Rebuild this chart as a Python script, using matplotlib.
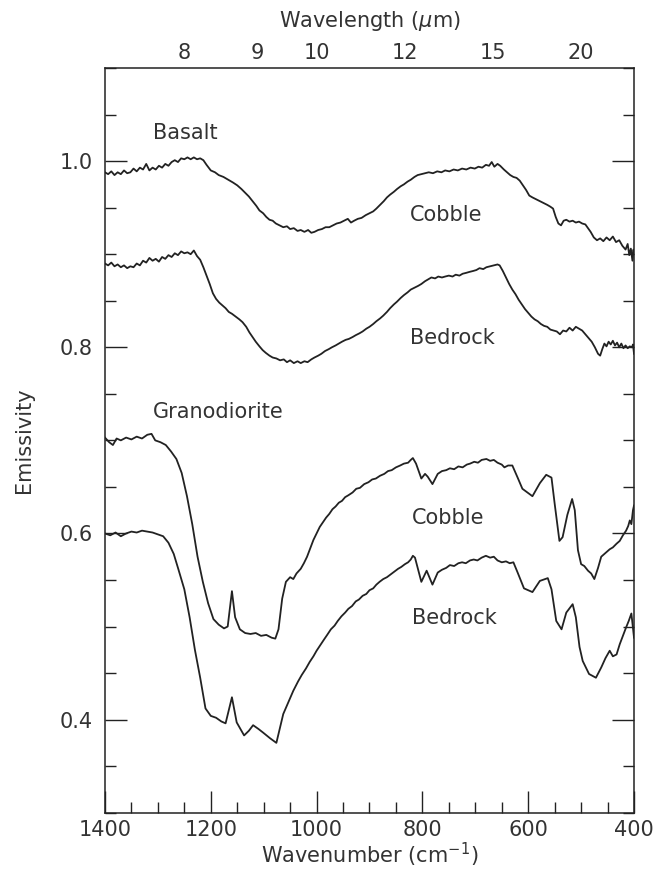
import numpy as np
import matplotlib
matplotlib.use("Agg")
import matplotlib.pyplot as plt
from matplotlib.ticker import MultipleLocator, FormatStrFormatter

# Emissivity spectra as (wavenumber cm^-1, emissivity) pairs
basalt_cobble = [
    (1400, .988), (1394, .986), (1388, .989), (1382, .985), (1376, .988), (1370, .986), (1364, .990),
    (1358, .987), (1352, .988), (1346, .992), (1340, .989), (1334, .993), (1328, .991), (1322, .997),
    (1316, .990), (1310, .993), (1304, .991), (1298, .995), (1292, .993), (1286, .997), (1280, .995),
    (1274, .999), (1268, 1.001), (1262, .999), (1256, 1.003), (1250, 1.002), (1244, 1.004),
    (1238, 1.002), (1232, 1.004), (1226, 1.002), (1220, 1.003), (1214, 1.001), (1208, .996),
    (1200, .990), (1192, .988), (1185, .985), (1176, .983), (1167, .980), (1158, .977), (1150, .974),
    (1142, .970), (1135, .966), (1128, .962), (1121, .957), (1114, .952), (1108, .947), (1101, .944),
    (1095, .940), (1089, .937), (1083, .936), (1077, .933), (1070, .931), (1063, .929), (1056, .930),
    (1050, .927), (1043, .928), (1036, .925), (1030, .926), (1023, .924), (1016, .926), (1010, .923),
    (1004, .924), (997, .926), (990, .927), (983, .929), (976, .929), (969, .931), (962, .933),
    (955, .934), (948, .936), (941, .938), (935, .934), (929, .936), (922, .938), (915, .939),
    (907, .942), (900, .944), (893, .946), (887, .949), (880, .953), (873, .957), (867, .961),
    (861, .964), (854, .967), (848, .970), (841, .973), (835, .975), (828, .978), (822, .980),
    (815, .983), (809, .985), (802, .986), (795, .987), (788, .988), (780, .987), (772, .989),
    (764, .988), (757, .990), (749, .989), (741, .991), (733, .990), (725, .992), (717, .991),
    (709, .993), (701, .992), (694, .994), (687, .993), (680, .996), (674, .995), (669, .999),
    (664, .994), (658, .997), (653, .995), (646, .991), (640, .988), (634, .985), (628, .983),
    (622, .982), (616, .979), (610, .974), (604, .969), (598, .963), (592, .961), (585, .959),
    (578, .957), (571, .955), (564, .953), (558, .951), (553, .949), (548, .940), (543, .933),
    (538, .931), (533, .936), (528, .937), (522, .935), (516, .936), (510, .934), (504, .935),
    (498, .933), (492, .932), (487, .928), (482, .924), (476, .918), (470, .915), (464, .917),
    (458, .914), (452, .918), (446, .915), (440, .919), (434, .913), (428, .915), (422, .909),
    (416, .905), (412, .911), (409, .899), (406, .906), (403, .893), (401, .905), (400, .901),
]

basalt_bedrock = [
    (1400, .890), (1394, .888), (1388, .891), (1382, .887), (1376, .889), (1370, .886), (1364, .888),
    (1358, .885), (1352, .887), (1346, .886), (1340, .890), (1334, .888), (1328, .893), (1322, .891),
    (1316, .896), (1310, .893), (1304, .895), (1298, .892), (1292, .897), (1286, .895), (1280, .899),
    (1274, .897), (1268, .901), (1262, .899), (1256, .903), (1250, .901), (1244, .902), (1238, .900),
    (1232, .904), (1226, .898), (1220, .894), (1214, .886), (1208, .877), (1202, .868), (1196, .858),
    (1190, .852), (1184, .848), (1178, .845), (1172, .842), (1166, .838), (1160, .836), (1153, .833),
    (1146, .830), (1140, .827), (1133, .822), (1127, .816), (1121, .811), (1115, .806), (1108, .801),
    (1102, .797), (1096, .794), (1089, .791), (1083, .789), (1076, .788), (1069, .786), (1062, .787),
    (1056, .784), (1050, .786), (1043, .783), (1036, .785), (1030, .783), (1023, .785), (1017, .784),
    (1010, .787), (1004, .789), (997, .791), (991, .793), (984, .796), (977, .798), (971, .800),
    (964, .802), (958, .804), (952, .806), (945, .808), (939, .809), (932, .811), (926, .813),
    (919, .815), (913, .817), (906, .820), (900, .822), (893, .825), (887, .828), (880, .831),
    (874, .834), (867, .838), (861, .842), (854, .846), (848, .849), (841, .853), (835, .856),
    (828, .859), (822, .862), (815, .864), (808, .866), (802, .868), (795, .871), (789, .873),
    (783, .875), (776, .874), (770, .876), (763, .875), (757, .876), (750, .877), (743, .876),
    (737, .878), (730, .877), (724, .879), (717, .880), (711, .881), (704, .882), (698, .883),
    (692, .885), (685, .884), (679, .886), (672, .887), (665, .888), (658, .889), (654, .888),
    (648, .882), (642, .875), (636, .868), (630, .862), (624, .857), (618, .851), (612, .846),
    (606, .841), (600, .837), (594, .833), (588, .830), (582, .828), (576, .825), (570, .823),
    (564, .822), (558, .819), (552, .818), (546, .817), (540, .814), (534, .818), (528, .817),
    (522, .821), (516, .818), (510, .822), (504, .820), (498, .818), (492, .814), (486, .810),
    (480, .806), (474, .800), (468, .793), (464, .791), (460, .798), (456, .804), (452, .801),
    (448, .806), (444, .803), (440, .807), (436, .802), (432, .805), (428, .800), (424, .804),
    (420, .799), (416, .802), (412, .799), (408, .801), (404, .800), (402, .803), (400, .793),
]

grano_cobble = [
    (1400, .703), (1392, .698), (1385, .695), (1378, .702), (1370, .700), (1360, .703), (1350, .701),
    (1340, .704), (1330, .702), (1320, .706), (1312, .707), (1305, .700), (1295, .698), (1285, .695),
    (1275, .688), (1265, .680), (1255, .665), (1245, .640), (1235, .610), (1225, .575), (1215, .548),
    (1205, .525), (1195, .508), (1185, .502), (1175, .498), (1168, .500), (1160, .538), (1154, .510),
    (1145, .497), (1135, .493), (1125, .492), (1115, .493), (1105, .490), (1095, .491), (1085, .488),
    (1078, .487), (1072, .497), (1065, .530), (1058, .548), (1050, .553), (1044, .551), (1038, .557),
    (1030, .562), (1024, .568), (1018, .575), (1012, .584), (1006, .593), (1000, .600), (994, .607),
    (988, .612), (982, .617), (976, .621), (970, .626), (964, .629), (958, .633), (952, .635),
    (946, .639), (940, .641), (932, .644), (925, .648), (918, .649), (910, .653), (902, .655),
    (895, .658), (888, .659), (880, .662), (872, .664), (865, .667), (858, .668), (850, .671),
    (842, .673), (835, .675), (827, .676), (822, .679), (818, .681), (812, .675), (802, .659),
    (795, .664), (790, .661), (781, .653), (771, .664), (763, .667), (755, .668), (748, .670),
    (740, .669), (732, .672), (724, .671), (716, .674), (710, .675), (702, .677), (695, .676),
    (688, .679), (679, .680), (672, .678), (665, .679), (658, .676), (650, .674), (645, .671),
    (638, .673), (630, .673), (620, .660), (611, .648), (592, .640), (578, .654), (566, .663),
    (556, .660), (550, .632), (541, .592), (535, .596), (526, .620), (517, .637), (512, .625),
    (506, .582), (500, .567), (494, .565), (487, .560), (481, .557), (475, .551), (468, .563),
    (462, .575), (454, .579), (446, .583), (440, .585), (433, .589), (427, .592), (421, .598),
    (415, .603), (411, .608), (408, .614), (405, .610), (402, .625), (400, .630),
]

grano_bedrock = [
    (1400, .600), (1390, .598), (1380, .601), (1370, .597), (1360, .600), (1350, .602), (1340, .601),
    (1330, .603), (1320, .602), (1310, .601), (1300, .599), (1290, .597), (1280, .590), (1270, .578),
    (1262, .563), (1250, .540), (1240, .510), (1230, .475), (1220, .445), (1210, .412), (1200, .404),
    (1190, .402), (1180, .398), (1172, .396), (1160, .424), (1151, .397), (1137, .383), (1128, .388),
    (1120, .394), (1110, .390), (1101, .386), (1088, .380), (1076, .375), (1063, .406), (1044, .431),
    (1035, .441), (1028, .448), (1020, .455), (1013, .462), (1006, .468), (1000, .474), (993, .480),
    (986, .486), (980, .491), (973, .497), (966, .501), (960, .506), (953, .511), (946, .515),
    (940, .519), (933, .522), (926, .527), (920, .529), (913, .533), (906, .535), (900, .539),
    (893, .541), (887, .545), (881, .548), (874, .551), (867, .553), (860, .556), (853, .559),
    (846, .562), (840, .564), (833, .567), (827, .569), (822, .572), (818, .576), (814, .574),
    (802, .548), (792, .560), (781, .545), (771, .558), (763, .561), (755, .563), (748, .566),
    (740, .565), (732, .568), (725, .569), (718, .568), (710, .571), (703, .572), (696, .571),
    (688, .574), (680, .576), (672, .574), (665, .575), (658, .571), (650, .569), (642, .570),
    (635, .568), (628, .569), (620, .558), (608, .541), (592, .537), (578, .549), (563, .552),
    (556, .540), (547, .506), (537, .497), (528, .515), (516, .524), (510, .510), (503, .478),
    (497, .463), (485, .449), (472, .445), (462, .456), (454, .466), (446, .474), (440, .468),
    (433, .470), (427, .481), (421, .490), (415, .499), (410, .506), (405, .514), (400, .488),
]

# wavelength labels on the top axis (micrometres)
wavelength_labels = [8, 9, 10, 12, 15, 20]

plt.rcParams['font.family'] = 'DejaVu Sans'
ink = '#222222'
text_ink = '#333333'

fig = plt.figure(figsize=(6.56, 8.69), dpi=100)
ax = fig.add_axes([0.160, 0.0648, 0.8065, 0.8569])

for spectrum in [basalt_cobble, basalt_bedrock, grano_cobble, grano_bedrock]:
    wn, e = zip(*spectrum)
    ax.plot(wn, e, color=ink, lw=1.3)

ax.set_xlim(1400, 400)
ax.set_ylim(0.3, 1.1)

ax.xaxis.set_major_locator(MultipleLocator(200))
ax.xaxis.set_minor_locator(MultipleLocator(50))
ax.yaxis.set_major_locator(MultipleLocator(0.2))
ax.yaxis.set_minor_locator(MultipleLocator(0.05))
ax.tick_params(which='both', direction='in', top=True, right=True, width=1.0, color=ink,
               labelcolor=text_ink)
ax.tick_params(which='major', length=16, labelsize=15)
ax.tick_params(axis='x', which='major', pad=5)
ax.tick_params(axis='y', which='major', pad=9)
ax.tick_params(which='minor', length=8)
ax.yaxis.set_major_formatter(FormatStrFormatter('%.1f'))
for s in ax.spines.values():
    s.set_linewidth(1.1)
    s.set_color(ink)

ax.set_xlabel(r'Wavenumber (cm$^{-1}$)', fontsize=15, labelpad=1, color=text_ink)
ax.set_ylabel('Emissivity', fontsize=15, labelpad=18, color=text_ink)

# top axis: wavelength labels placed at 10^4/lambda
top = ax.twiny()
top.set_xlim(ax.get_xlim())
top.set_xticks([1e4 / w for w in wavelength_labels])
top.set_xticklabels([str(w) for w in wavelength_labels])
top.tick_params(length=0, labelsize=15, pad=3.5, labelcolor=text_ink)
top.set_xlabel(r'Wavelength ($\mu$m)', fontsize=15, labelpad=12, color=text_ink)
for s in top.spines.values():
    s.set_visible(False)

txt = dict(fontsize=15, color=text_ink, va='center', ha='left')
ax.text(1309, 1.030, 'Basalt', **txt)
ax.text(824, 0.942, 'Cobble', **txt)
ax.text(824, 0.810, 'Bedrock', **txt)
ax.text(1309, 0.730, 'Granodiorite', **txt)
ax.text(820, 0.617, 'Cobble', **txt)
ax.text(820, 0.509, 'Bedrock', **txt)

fig.savefig('out.png', dpi=100)
